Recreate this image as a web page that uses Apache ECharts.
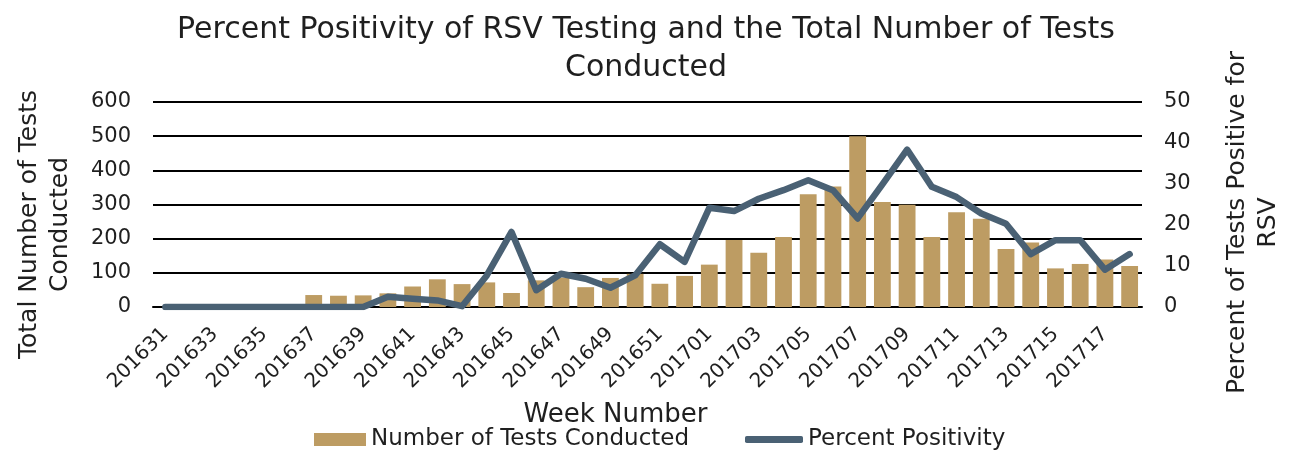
<!DOCTYPE html>
<html>
<head>
<meta charset="utf-8">
<script src="https://cdn.jsdelivr.net/npm/echarts@6/dist/echarts.min.js"></script>
<style>
  html, body { margin: 0; padding: 0; background: #fff; }
  #chart { width: 1292px; height: 451px; }
</style>
</head>
<body>
<div id="chart"></div>
<script>
// ===== Data =====
const weeks = [
  '201631','201632','201633','201634','201635','201636','201637','201638','201639','201640',
  '201641','201642','201643','201644','201645','201646','201647','201648','201649','201650',
  '201651','201652','201701','201702','201703','201704','201705','201706','201707','201708',
  '201709','201710','201711','201712','201713','201714','201715','201716','201717','201718'
];
const testsConducted = [
  0, 0, 0, 0, 0, 0, 35, 33, 34, 40,
  60, 81, 67, 72, 41, 78, 86, 58, 85, 97,
  68, 91, 124, 196, 159, 205, 330, 353, 500, 307,
  299, 205, 277, 258, 170, 189, 113, 126, 139, 120
];
const percentPositivity = [
  0, 0, 0, 0, 0, 0, 0, 0, 0, 2.5,
  2.0, 1.6, 0.2, 7.7, 18.3, 4.1, 8.1, 6.9, 4.7, 7.7,
  15.3, 11.0, 24.2, 23.4, 26.4, 28.5, 30.9, 28.5, 21.6, 29.9,
  38.4, 29.3, 26.8, 22.8, 20.3, 12.9, 16.3, 16.3, 9.1, 12.9
];
const leftTicks = { min: 0, max: 600, interval: 100 };
const rightTicks = { min: 0, max: 50, interval: 10 };

const FONT = 'DejaVu Sans';
const TXT = '#1f1f1f';
const BAR = '#BD9C63';
const LINE = '#4A6174';

const chart = echarts.init(document.getElementById('chart'));
chart.setOption({
  animation: false,
  textStyle: { fontFamily: FONT, color: TXT },
  title: {
    text: 'Percent Positivity of RSV Testing and the Total Number of Tests\nConducted',
    left: 'center',
    top: 6,
    textStyle: { fontFamily: FONT, fontSize: 30, fontWeight: 'normal', color: TXT, lineHeight: 38 }
  },
  grid: { left: 153, right: 145, top: 102, bottom: 144, containLabel: false },
  legend: [
    {
      data: [{ name: 'Number of Tests Conducted', icon: 'rect' }],
      left: 309, top: 423, itemWidth: 52, itemHeight: 13, itemGap: 6,
      textStyle: { fontFamily: FONT, fontSize: 23, color: TXT }
    },
    {
      data: [{ name: 'Percent Positivity', icon: 'roundRect' }],
      left: 740, top: 423, itemWidth: 58, itemHeight: 7, itemGap: 2,
      textStyle: { fontFamily: FONT, fontSize: 23, color: TXT }
    }
  ],
  xAxis: {
    type: 'category',
    data: weeks,
    name: 'Week Number',
    nameLocation: 'middle',
    nameGap: 95,
    nameTextStyle: { fontFamily: FONT, fontSize: 26, color: TXT, padding: [0, 64, 0, 0] },
    axisLine: { lineStyle: { color: '#000', width: 2 } },
    axisTick: { show: false },
    axisLabel: { interval: 1, rotate: 45, fontFamily: FONT, fontSize: 20, color: TXT, margin: 24 }
  },
  yAxis: [
    {
      type: 'value',
      min: leftTicks.min, max: leftTicks.max, interval: leftTicks.interval,
      name: 'Total Number of Tests\nConducted',
      nameLocation: 'middle',
      nameRotate: 90,
      nameGap: 77,
      nameTextStyle: { fontFamily: FONT, fontSize: 25, color: TXT, lineHeight: 31, padding: [0, 40, 0, 0] },
      axisLine: { show: false },
      axisTick: { show: false },
      axisLabel: { fontFamily: FONT, fontSize: 21, color: TXT, margin: 22 },
      splitLine: { lineStyle: { color: '#000', width: 2 } }
    },
    {
      type: 'value',
      min: rightTicks.min, max: rightTicks.max, interval: rightTicks.interval,
      name: 'Percent of Tests Positive for\nRSV',
      nameLocation: 'middle',
      nameRotate: 90,
      nameGap: 80,
      nameTextStyle: { fontFamily: FONT, fontSize: 25, color: TXT, lineHeight: 31, padding: [0, 36, 0, 0] },
      axisLine: { show: false },
      axisTick: { show: false },
      axisLabel: { fontFamily: FONT, fontSize: 21, color: TXT, margin: 22 },
      splitLine: { show: false }
    }
  ],
  series: [
    {
      name: 'Number of Tests Conducted',
      type: 'bar',
      data: testsConducted,
      yAxisIndex: 0,
      barCategoryGap: '32%',
      itemStyle: { color: BAR }
    },
    {
      name: 'Percent Positivity',
      type: 'line',
      data: percentPositivity,
      yAxisIndex: 1,
      symbol: 'none',
      lineStyle: { color: LINE, width: 6.5, cap: 'round', join: 'round' },
      itemStyle: { color: LINE }
    }
  ]
});
</script>
</body>
</html>
